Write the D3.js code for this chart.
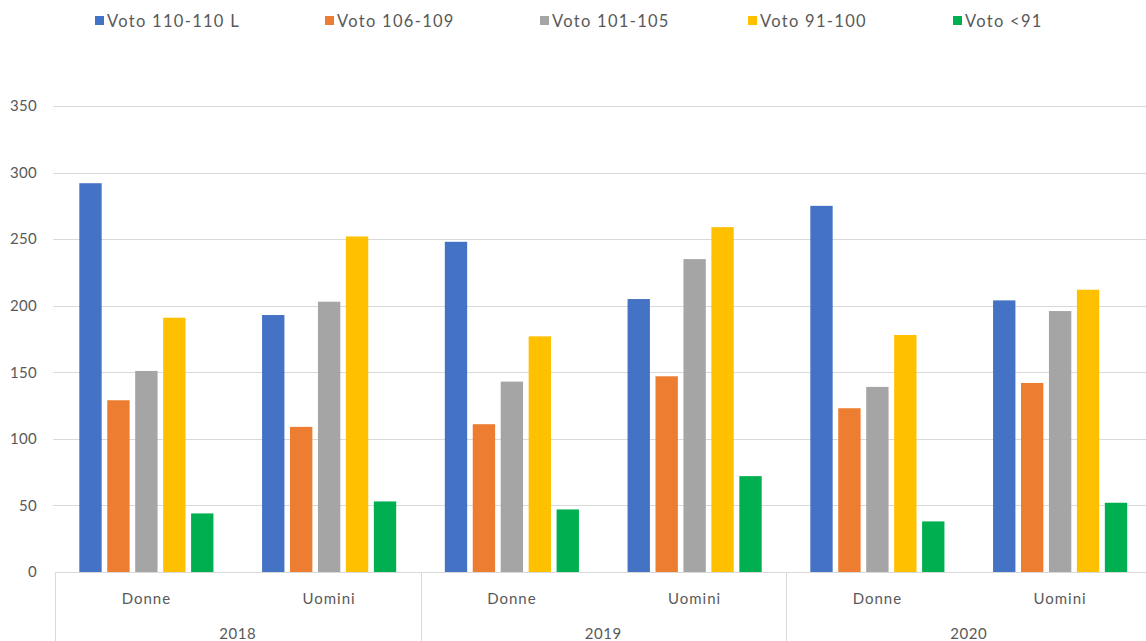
<!DOCTYPE html>
<html>
<head>
<meta charset="utf-8">
<script src="https://cdn.jsdelivr.net/npm/d3@7"></script>
<style>
  html, body { margin: 0; padding: 0; background: #ffffff; }
  svg { display: block; }
  text { font-family: Lato, "Open Sans", "DejaVu Sans", sans-serif; fill: #595959; }
</style>
</head>
<body>
<svg id="chart" width="1146" height="641"></svg>
<script>
// ---- data ----
const years = ["2018", "2019", "2020"];
const genders = ["Donne", "Uomini"];
const seriesNames = ["Voto 110-110 L", "Voto 106-109", "Voto 101-105", "Voto 91-100", "Voto <91"];
// values in order: 2018 Donne, 2018 Uomini, 2019 Donne, 2019 Uomini, 2020 Donne, 2020 Uomini
const voto110 = [292, 193, 248, 205, 275, 204];
const voto106 = [129, 109, 111, 147, 123, 142];
const voto101 = [151, 203, 143, 235, 139, 196];
const voto91 = [191, 252, 177, 259, 178, 212];
const votoUnder91 = [44, 53, 47, 72, 38, 52];
const yTicks = [0, 50, 100, 150, 200, 250, 300, 350];
const seriesColors = ["#4472C4", "#ED7D31", "#A5A5A5", "#FFC000", "#00B050"];

// ---- build table ----
const seriesValues = [voto110, voto106, voto101, voto91, votoUnder91];
const categories = [];
years.forEach(yr => genders.forEach(g => categories.push({ key: yr + "|" + g, year: yr, gender: g })));
const rows = [];
seriesValues.forEach((vals, si) => {
  vals.forEach((v, ci) => rows.push({ series: seriesNames[si], cat: categories[ci].key, value: v }));
});

// ---- layout ----
const svg = d3.select("#chart");
const plotLeft = 55, groupW = 365.5;
const plotRight = plotLeft + groupW * years.length;
const plotTop = 106, plotBottom = 572;

const x0 = d3.scaleBand().domain(categories.map(c => c.key)).range([plotLeft, plotRight]).padding(0);
const x1 = d3.scaleBand().domain(seriesNames).range([0, x0.bandwidth()]).paddingInner(0.2).paddingOuter(0.87);
const xYear = d3.scaleBand().domain(years).range([plotLeft, plotRight]).padding(0);
const y = d3.scaleLinear().domain([0, 350]).range([plotBottom, plotTop]);
const color = d3.scaleOrdinal().domain(seriesNames).range(seriesColors);

// gridlines
svg.append("g").selectAll("line").data(yTicks.filter(t => t > 0)).join("line")
  .attr("x1", plotLeft - 2).attr("x2", plotRight)
  .attr("y1", d => Math.round(y(d)) + 0.5).attr("y2", d => Math.round(y(d)) + 0.5)
  .attr("stroke", "#d9d9d9").attr("stroke-width", 1);

// y axis labels
const yAxis = d3.axisLeft(y).tickValues(yTicks).tickSize(0).tickPadding(18);
const gy = svg.append("g").attr("transform", `translate(${plotLeft},0)`).call(yAxis);
gy.select(".domain").remove();
gy.selectAll("text").style("font-size", "15px").attr("fill", "#595959")
  .style("letter-spacing", "0.3px")
  .style("font-family", "Lato, 'Open Sans', sans-serif");

// bars
svg.append("g").selectAll("rect").data(rows).join("rect")
  .attr("x", d => x0(d.cat) + x1(d.series))
  .attr("width", x1.bandwidth())
  .attr("y", d => y(d.value))
  .attr("height", d => y(0) - y(d.value))
  .attr("fill", d => color(d.series));

// x axis line
svg.append("line").attr("x1", plotLeft).attr("x2", plotRight)
  .attr("y1", plotBottom + 0.5).attr("y2", plotBottom + 0.5)
  .attr("stroke", "#d9d9d9").attr("stroke-width", 1);

// year dividers
const dividers = years.map(yv => xYear(yv)).concat([plotRight]);
svg.append("g").selectAll("line").data(dividers).join("line")
  .attr("x1", d => Math.round(d) + 0.5).attr("x2", d => Math.round(d) + 0.5)
  .attr("y1", plotBottom).attr("y2", 641)
  .attr("stroke", "#d9d9d9").attr("stroke-width", 1);

// gender labels
svg.append("g").selectAll("text").data(categories).join("text")
  .attr("x", d => x0(d.key) + x0.bandwidth() / 2)
  .attr("y", 598)
  .attr("text-anchor", "middle")
  .attr("dominant-baseline", "central")
  .style("font-size", "15px")
  .style("letter-spacing", "1px")
  .text(d => d.gender);

// year labels
svg.append("g").selectAll("text").data(years).join("text")
  .attr("x", d => xYear(d) + xYear.bandwidth() / 2)
  .attr("y", 633)
  .attr("text-anchor", "middle")
  .attr("dominant-baseline", "central")
  .style("font-size", "15px")
  .style("letter-spacing", "0.6px")
  .text(d => d);

// legend
const legendX = [95, 325, 540, 748, 953];
const lg = svg.append("g").selectAll("g").data(seriesNames).join("g")
  .attr("transform", (d, i) => `translate(${legendX[i]},16)`);
lg.append("rect").attr("width", 9).attr("height", 9).attr("fill", d => color(d));
lg.append("text").attr("x", 12).attr("y", 5).attr("dominant-baseline", "central")
  .style("font-size", "16.5px").style("letter-spacing", "1.3px").text(d => d);
</script>
</body>
</html>
